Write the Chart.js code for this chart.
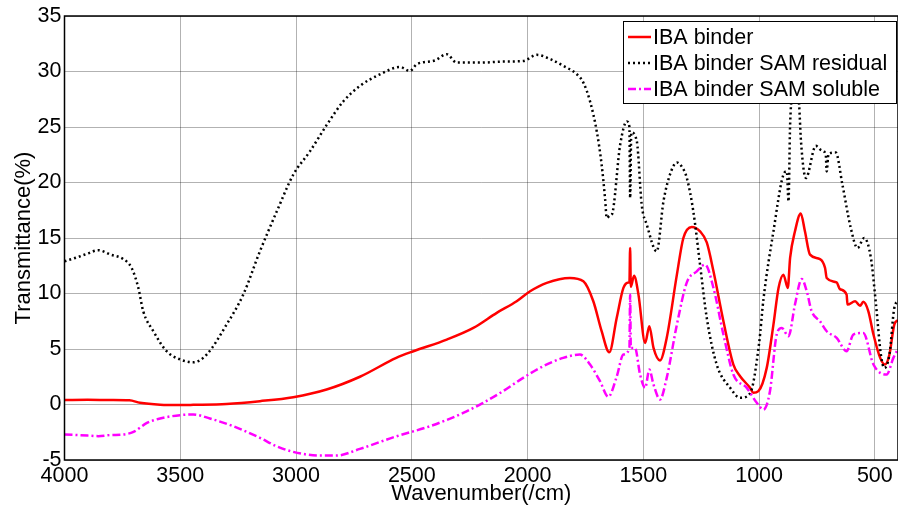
<!DOCTYPE html>
<html>
<head>
<meta charset="utf-8">
<script src="https://cdn.jsdelivr.net/npm/chart.js@4.4.1/dist/chart.umd.min.js"></script>
<style>
  html, body { margin: 0; padding: 0; background: #fff; }
  #wrap { width: 898px; height: 507px; }
</style>
</head>
<body>
<div id="wrap"><canvas id="ftirChart"></canvas></div>
<script>
// wavenumber (cm-1) / transmittance (%)
const binderWn = [4000, 3900, 3800, 3720, 3674, 3587, 3500, 3444, 3300, 3156, 3012, 2868, 2724, 2567, 2493, 2349, 2234, 2133, 2047, 1989,
    1917, 1817, 1759, 1716, 1680, 1647, 1615, 1586, 1564, 1560, 1557, 1554, 1540, 1521, 1492, 1474, 1456, 1428, 1399, 1355,
    1327, 1291, 1255, 1226, 1197, 1154, 1111, 1082, 1039, 1025, 1003, 967, 938, 916, 895, 876, 866, 845, 820, 802,
    780, 737, 715, 708, 665, 651, 622, 618, 585, 564, 550, 528, 506, 477, 456, 437, 416, 400];
const binderT = [0.4, 0.42, 0.4, 0.38, 0.15, -0.02, -0.05, -0.03, 0.05, 0.3, 0.66, 1.35, 2.5, 4.2, 4.8, 5.85, 6.9, 8.26, 9.3, 10.2,
    10.96, 11.4, 11.1, 9.3, 6.6, 4.7, 7.8, 10.5, 11.0, 11.0, 14.1, 10.6, 11.6, 9.9, 5.55, 7.06, 5.1, 3.97, 6.0, 11.7,
    15.0, 16.0, 15.6, 14.6, 12.0, 7.5, 3.6, 2.55, 1.5, 1.05, 1.2, 3.3, 7.2, 10.5, 11.7, 10.5, 13.2, 15.6, 17.2, 15.6,
    13.5, 13.1, 12.3, 11.4, 11.0, 10.4, 9.9, 9.0, 9.3, 8.9, 9.25, 8.4, 6.3, 4.2, 3.6, 4.5, 7.2, 7.6];

const residualWn = [4000, 3940, 3900, 3854, 3800, 3746, 3710, 3681, 3660, 3616, 3559, 3501, 3444, 3386, 3300, 3228, 3156, 3083, 3012, 2940,
    2867, 2796, 2724, 2637, 2551, 2508, 2479, 2400, 2349, 2306, 2205, 2100, 2018, 1960, 1900, 1845, 1787, 1759, 1730, 1701,
    1680, 1665, 1658, 1645, 1636, 1600, 1571, 1560, 1557, 1552, 1528, 1507, 1485, 1442, 1413, 1380, 1355, 1330, 1312, 1284,
    1255, 1226, 1183, 1125, 1082, 1039, 1000, 981, 938, 895, 880, 873, 866, 850, 835, 827, 819, 798, 755, 730,
    712, 708, 700, 669, 640, 604, 575, 546, 517, 495, 474, 459, 437, 416, 400];
const residualT = [12.9, 13.3, 13.6, 13.9, 13.5, 13.1, 12.3, 10.5, 8.4, 6.6, 4.8, 4.06, 3.8, 4.5, 7.2, 9.9, 13.8, 17.4, 20.7, 22.8,
    25.2, 27.3, 28.7, 29.75, 30.4, 30.05, 30.65, 31.0, 31.56, 30.8, 30.8, 30.9, 30.95, 31.5, 31.1, 30.5, 29.75, 29.0, 27.3, 24.6,
    21.6, 18.5, 16.8, 17.0, 17.1, 23.4, 25.5, 25.0, 18.6, 24.5, 23.7, 18.0, 16.2, 13.8, 18.3, 21.0, 21.8, 21.3, 20.4, 17.4,
    12.6, 7.8, 3.6, 1.5, 0.6, 1.0, 5.5, 9.5, 15.6, 20.7, 21.0, 18.3, 25.2, 28.5, 28.8, 27.0, 23.7, 20.4, 23.3, 22.9,
    22.5, 21.0, 22.6, 22.7, 19.8, 15.9, 14.1, 15.0, 13.2, 9.0, 4.5, 3.3, 4.5, 8.7, 9.3];

const solubleWn = [4000, 3950, 3900, 3854, 3800, 3746, 3702, 3644, 3587, 3501, 3444, 3372, 3271, 3156, 3084, 3012, 2897, 2825, 2724, 2566,
    2422, 2278, 2192, 2106, 2019, 1932, 1846, 1774, 1730, 1687, 1651, 1615, 1586, 1560, 1557, 1554, 1536, 1514, 1492, 1474,
    1456, 1428, 1399, 1355, 1312, 1269, 1233, 1197, 1154, 1111, 1053, 1010, 981, 953, 924, 902, 873, 845, 816, 794,
    773, 737, 708, 665, 622, 593, 550, 506, 449, 420, 400];
const solubleT = [-2.7, -2.75, -2.8, -2.85, -2.75, -2.7, -2.47, -1.66, -1.26, -0.96, -0.9, -1.26, -1.96, -3.0, -3.76, -4.27, -4.6, -4.6, -4.0, -2.86,
    -1.96, -0.76, 0.15, 1.2, 2.4, 3.45, 4.2, 4.5, 3.6, 2.1, 0.7, 2.5, 4.5, 5.1, 9.9, 5.1, 5.1, 2.7, 1.5, 3.15,
    1.8, 0.45, 2.4, 7.2, 11.0, 12.0, 12.6, 10.5, 6.3, 2.7, 1.5, 0.15, -0.45, 1.2, 6.3, 6.9, 6.15, 9.0, 11.3, 10.2,
    8.4, 7.5, 6.6, 6.0, 4.8, 6.3, 6.45, 3.6, 2.7, 4.2, 5.0];

const seriesNames = ['IBA binder', 'IBA binder SAM residual', 'IBA binder SAM soluble'];
const seriesColors = ['#ff0000', '#000000', '#ff00ff'];
const seriesDash = [[], [2, 3], [8, 3, 2, 3]];
const yTicks = [-5, 0, 5, 10, 15, 20, 25, 30, 35];
const xTicks = [500, 1000, 1500, 2000, 2500, 3000, 3500, 4000];

const FONT = "'Liberation Sans', Arial, Helvetica, sans-serif";

function pts(wn, t) {
    return wn.map((w, i) => ({ x: w, y: t[i] }));
}

// legend drawn over the lines, with a white box like the original figure
const boxLegend = {
    id: 'boxLegend',
    afterDatasetsDraw(chart) {
        const c = chart.ctx;
        const x0 = 623, y0 = 21, w = 274, h = 83;
        c.save();
        c.fillStyle = '#fff';
        c.fillRect(x0, y0, w, h);
        c.strokeStyle = '#000';
        c.lineWidth = 1;
        c.strokeRect(x0 + 0.5, y0 + 0.5, w - 1, h - 1);
        c.font = '21.5px ' + FONT;
        c.textBaseline = 'middle';
        seriesNames.forEach((name, i) => {
            const y = y0 + 16 + i * 26;
            c.strokeStyle = seriesColors[i];
            c.lineWidth = 2.5;
            c.setLineDash(seriesDash[i]);
            c.beginPath();
            c.moveTo(x0 + 5, y);
            c.lineTo(x0 + 28, y);
            c.stroke();
            c.setLineDash([]);
            c.fillStyle = '#000';
            c.fillText(name, x0 + 30, y + 1);
        });
        c.restore();
    }
};

// black frame round the plot area
const frame = {
    id: 'frame',
    afterDraw(chart) {
        const a = chart.chartArea, c = chart.ctx;
        c.save();
        c.strokeStyle = '#000';
        c.lineWidth = 1.5;
        c.strokeRect(a.left, a.top, a.right - a.left, a.bottom - a.top);
        c.restore();
    }
};

document.addEventListener('DOMContentLoaded', () => {
    const ctx = document.getElementById('ftirChart');
    const sets = [[binderWn, binderT], [residualWn, residualT], [solubleWn, solubleT]];
    new Chart(ctx.getContext('2d'), {
        type: 'line',
        data: {
            datasets: sets.map((s, i) => ({
                label: seriesNames[i],
                data: pts(s[0], s[1]),
                borderColor: seriesColors[i],
                borderDash: seriesDash[i],
                borderWidth: 2.5,
                pointRadius: 0,
                fill: false,
                cubicInterpolationMode: 'monotone'
            })).reverse()
        },
        options: {
            responsive: true,
            maintainAspectRatio: false,
            animation: false,
            layout: { padding: { top: 16, right: 0, left: 0, bottom: 0 } },
            plugins: { legend: { display: false }, tooltip: { enabled: false } },
            scales: {
                x: {
                    type: 'linear',
                    reverse: true,
                    min: 400,
                    max: 4000,
                    afterBuildTicks: (s) => { s.ticks = xTicks.map(v => ({ value: v })); },
                    afterFit: (s) => { s.height = 47; },
                    ticks: { includeBounds: false, padding: 3, color: '#000', font: { family: FONT, size: 21.5 },
                        callback: (v) => String(v) },
                    grid: { color: 'rgba(0,0,0,0.3)', drawTicks: false },
                    border: { display: false },
                    title: { display: true, text: 'Wavenumber(/cm)', color: '#000', padding: 0, font: { family: FONT, size: 22 } }
                },
                y: {
                    min: -5,
                    max: 35,
                    afterBuildTicks: (s) => { s.ticks = yTicks.map(v => ({ value: v })); },
                    afterFit: (s) => { s.width = 64.5; },
                    ticks: { padding: 3, color: '#000', font: { family: FONT, size: 21.5 } },
                    grid: { color: 'rgba(0,0,0,0.3)', drawTicks: false },
                    border: { display: false },
                    title: { display: true, text: 'Transmittance(%)', color: '#000', padding: { top: 11, bottom: 0 }, font: { family: FONT, size: 22 } }
                }
            }
        },
        plugins: [boxLegend, frame]
    });
});
</script>
</body>
</html>
